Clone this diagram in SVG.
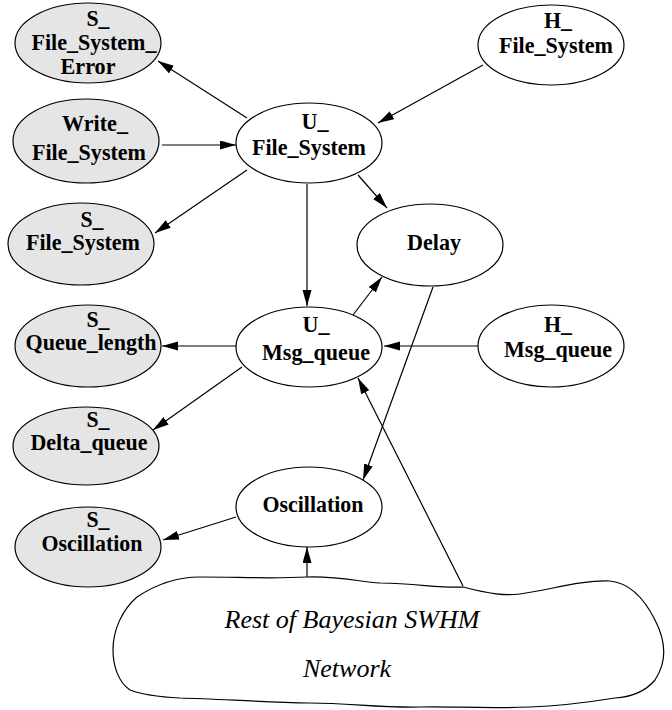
<svg xmlns="http://www.w3.org/2000/svg" width="672" height="710" viewBox="0 0 672 710">
<style>
.n ellipse{stroke:#000;stroke-width:1.2;fill:#fff}
.n.o ellipse{fill:#e5e5e5}
.n text{font-family:"Liberation Serif","Times New Roman",serif;font-weight:bold;font-size:23px;text-anchor:middle;fill:#000}
.c line{stroke:#000;stroke-width:1.2;marker-end:url(#ah)}
.cloud path{fill:#fff;stroke:#000;stroke-width:1.2}
.cloud text{font-family:"Liberation Serif","Times New Roman",serif;font-style:italic;font-size:26px;text-anchor:middle;fill:#000}
</style>
<defs>
<marker id="ah" markerUnits="userSpaceOnUse" markerWidth="17" markerHeight="10" refX="16" refY="4.5" orient="auto">
<path d="M0,0 L16,4.5 L0,9 Z" fill="#000"/>
</marker>
</defs>
<rect width="672" height="710" fill="#fff"/>
<g id="cloud" class="cloud">
<path d="M137,597 C155,585 175,577 200,577 C240,577 270,579 307,577 C340,576 360,582 380,583 C420,584 440,588 463,587 C490,594 505,596 520,594 C550,590 580,580 610,581 C630,583 645,600 655,620 C668,645 665,665 655,680 C645,692 630,697 615,698 C590,702 560,706 530,707 C480,709 450,706 420,707 C380,708 350,703 310,703 C260,702 220,699 180,698 C160,697 140,694 130,690 C118,682 113,665 113,650 C113,630 122,610 137,597 Z"/>
<text x="352" y="628">Rest of Bayesian SWHM</text>
<text x="347" y="677">Network</text>
</g>
<g id="connectors" class="c">
<line x1="247" y1="118" x2="158" y2="61"/>
<line x1="162" y1="145" x2="236" y2="145"/>
<line x1="247" y1="170" x2="155" y2="233"/>
<line x1="483" y1="65" x2="378" y2="123"/>
<line x1="358" y1="175" x2="387" y2="208"/>
<line x1="307" y1="184" x2="307" y2="306"/>
<line x1="353" y1="315" x2="382" y2="277"/>
<line x1="478" y1="346" x2="384" y2="346"/>
<line x1="236" y1="346" x2="162" y2="346"/>
<line x1="242" y1="367" x2="153" y2="430"/>
<line x1="433" y1="287" x2="363" y2="480"/>
<line x1="463" y1="586" x2="358" y2="378"/>
<line x1="236" y1="517" x2="163" y2="540"/>
<line x1="307" y1="577" x2="307" y2="547"/>
</g>
<g id="S_File_System_Error" class="n o">
<ellipse cx="88" cy="43" rx="73" ry="40"/>
<text x="98" y="26" textLength="23" lengthAdjust="spacingAndGlyphs">S_</text>
<text x="94" y="50" textLength="125" lengthAdjust="spacingAndGlyphs">File_System_</text>
<text x="88" y="74" textLength="55" lengthAdjust="spacingAndGlyphs">Error</text>
</g>
<g id="Write_File_System" class="n o">
<ellipse cx="86" cy="141" rx="73" ry="42"/>
<text x="95" y="131" textLength="66" lengthAdjust="spacingAndGlyphs">Write_</text>
<text x="89" y="160" textLength="114" lengthAdjust="spacingAndGlyphs">File_System</text>
</g>
<g id="U_File_System" class="n">
<ellipse cx="309" cy="143" rx="73" ry="40"/>
<text x="315" y="129" textLength="27" lengthAdjust="spacingAndGlyphs">U_</text>
<text x="309" y="155" textLength="114" lengthAdjust="spacingAndGlyphs">File_System</text>
</g>
<g id="H_File_System" class="n">
<ellipse cx="551" cy="45" rx="73" ry="40"/>
<text x="558" y="28" textLength="28" lengthAdjust="spacingAndGlyphs">H_</text>
<text x="556" y="53" textLength="114" lengthAdjust="spacingAndGlyphs">File_System</text>
</g>
<g id="S_File_System" class="n o">
<ellipse cx="81" cy="244" rx="73" ry="41"/>
<text x="92" y="227" textLength="23" lengthAdjust="spacingAndGlyphs">S_</text>
<text x="83" y="250" textLength="114" lengthAdjust="spacingAndGlyphs">File_System</text>
</g>
<g id="Delay" class="n">
<ellipse cx="430" cy="245" rx="73" ry="41"/>
<text x="434" y="250" textLength="54" lengthAdjust="spacingAndGlyphs">Delay</text>
</g>
<g id="U_Msg_queue" class="n">
<ellipse cx="309" cy="347" rx="73" ry="40"/>
<text x="316" y="332" textLength="27" lengthAdjust="spacingAndGlyphs">U_</text>
<text x="316" y="360" textLength="108" lengthAdjust="spacingAndGlyphs">Msg_queue</text>
</g>
<g id="H_Msg_queue" class="n">
<ellipse cx="551" cy="346" rx="73" ry="41"/>
<text x="558" y="332" textLength="28" lengthAdjust="spacingAndGlyphs">H_</text>
<text x="558" y="357" textLength="108" lengthAdjust="spacingAndGlyphs">Msg_queue</text>
</g>
<g id="S_Queue_length" class="n o">
<ellipse cx="88" cy="346" rx="73" ry="41"/>
<text x="98" y="327" textLength="23" lengthAdjust="spacingAndGlyphs">S_</text>
<text x="91" y="350" textLength="131" lengthAdjust="spacingAndGlyphs">Queue_length</text>
</g>
<g id="S_Delta_queue" class="n o">
<ellipse cx="86" cy="446" rx="73" ry="39"/>
<text x="98" y="427" textLength="23" lengthAdjust="spacingAndGlyphs">S_</text>
<text x="89" y="450" textLength="117" lengthAdjust="spacingAndGlyphs">Delta_queue</text>
</g>
<g id="Oscillation" class="n">
<ellipse cx="309" cy="507" rx="73" ry="40"/>
<text x="313" y="512" textLength="101" lengthAdjust="spacingAndGlyphs">Oscillation</text>
</g>
<g id="S_Oscillation" class="n o">
<ellipse cx="88" cy="547" rx="73" ry="40"/>
<text x="98" y="527" textLength="23" lengthAdjust="spacingAndGlyphs">S_</text>
<text x="92" y="551" textLength="101" lengthAdjust="spacingAndGlyphs">Oscillation</text>
</g>
</svg>
